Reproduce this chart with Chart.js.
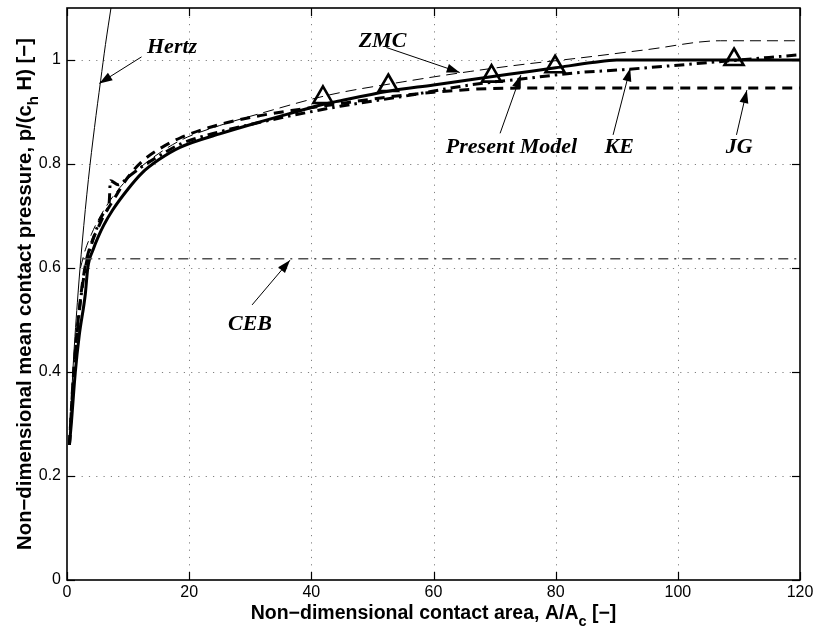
<!DOCTYPE html>
<html><head><meta charset="utf-8">
<script src="https://cdn.jsdelivr.net/npm/chart.js@4.4.1/dist/chart.umd.min.js"></script>
<style>html,body{margin:0;padding:0;background:#fff;overflow:hidden}canvas{display:block}</style>
</head><body>
<canvas id="c" width="819" height="639"></canvas>
<script>
// ---- tick labels / axes ----
const xTicks = [0, 20, 40, 60, 80, 100, 120];
const yTicks = [0, 0.2, 0.4, 0.6, 0.8, 1];
const xMin = 0, xMax = 120, yMin = 0, yMax = 1.1;

// ---- series ----
const hertzX = [0.4, 1, 1.8, 2.5, 3.5, 4.5, 5.5, 6.3, 7.2];
const hertzY = [0.26, 0.41, 0.55, 0.65, 0.77, 0.87, 0.96, 1.03, 1.1];

const cebX = [2.5, 120];
const cebY = [0.618, 0.618];

const zmcX = [2.2, 3, 4, 5, 6.5, 8, 10, 13, 18.5, 25, 31.6, 43, 55, 66, 75, 84, 95, 107, 120];
const zmcY = [0.60, 0.635, 0.665, 0.69, 0.72, 0.745, 0.772, 0.803, 0.845, 0.874, 0.897, 0.933, 0.958, 0.978, 0.992, 1.004, 1.02, 1.037, 1.037];

const keX = [0.4, 1, 2, 3, 4, 5, 6, 6.9, 7.1, 8.4, 10, 12.3, 15, 18.5, 25, 31.6, 38, 44.7, 55, 66, 74, 84, 90.5, 100, 110, 120];
const keY = [0.26, 0.38, 0.515, 0.6, 0.645, 0.68, 0.705, 0.725, 0.768, 0.76, 0.775, 0.795, 0.815, 0.838, 0.862, 0.88, 0.896, 0.911, 0.93, 0.952, 0.963, 0.976, 0.981, 0.99, 1.0, 1.01];

const jgX = [0.4, 1, 2, 3, 4, 5, 6, 7.4, 10, 12.3, 15, 18.5, 25, 31.6, 38, 44, 52, 60, 67, 75, 120];
const jgY = [0.26, 0.385, 0.52, 0.605, 0.648, 0.675, 0.70, 0.727, 0.775, 0.805, 0.828, 0.85, 0.876, 0.893, 0.905, 0.915, 0.928, 0.938, 0.944, 0.946, 0.946];

const presentX = [0.4, 0.7, 1.36, 2, 3, 3.4, 4.3, 5, 6, 7.5, 10, 12.3, 15, 18.5, 25, 31.6, 38, 42, 44, 52.6, 60, 66, 72, 80, 86, 90, 100, 120];
const presentY = [0.26, 0.30, 0.40, 0.47, 0.55, 0.60, 0.636, 0.657, 0.682, 0.712, 0.752, 0.783, 0.808, 0.832, 0.858, 0.881, 0.902, 0.915, 0.92, 0.94, 0.952, 0.962, 0.972, 0.985, 0.995, 1.0, 1.0, 1.0];

const triX = [41.9, 52.6, 69.5, 79.9, 109.2];
const triY = [0.928, 0.951, 0.969, 0.987, 1.001];

// ---- annotations: label, text baseline position, arrow tail -> tip (data units) ----
const annLabels = ['Hertz', 'ZMC', 'Present Model', 'KE', 'JG', 'CEB'];
const annTextX  = [17.2, 51.65, 72.77, 90.4, 110.05, 29.96];
const annTextY  = [1.0135, 1.025, 0.821, 0.8206, 0.821, 0.4808];
const annFromX  = [12.2, 52.3, 70.9, 89.4, 109.6, 30.3];
const annFromY  = [1.006, 1.024, 0.859, 0.856, 0.856, 0.529];
const annToX    = [5.29, 64.3, 74.3, 92.2, 111.3, 36.5];
const annToY    = [0.955, 0.976, 0.971, 0.984, 0.942, 0.615];

const pts = (xs, ys) => xs.map((x, i) => ({x: x, y: ys[i]}));

function lineDs(xs, ys, w, dash, color) {
  return {
    data: pts(xs, ys), borderColor: color || '#000', borderWidth: w, borderDash: dash || [],
    pointRadius: 0, fill: false, cubicInterpolationMode: 'monotone', borderCapStyle: 'butt',
    borderJoinStyle: 'round', clip: 0
  };
}

const datasets = [
  lineDs(cebX, cebY, 1.5, [10, 6, 2, 6], '#505050'),
  lineDs(hertzX, hertzY, 1, []),
  lineDs(zmcX, zmcY, 1, [11, 6]),
  lineDs(keX, keY, 3, [10, 5, 2.5, 5]),
  lineDs(jgX, jgY, 3, [10, 7]),
  lineDs(presentX, presentY, 3, []),
  {
    data: pts(triX, triY), showLine: false, pointStyle: 'triangle', pointRadius: 11,
    pointBorderWidth: 2.6, pointBorderColor: '#000', pointBackgroundColor: 'rgba(0,0,0,0)', clip: false
  }
];

function arrow(ctx, x1, y1, x2, y2) {
  ctx.beginPath(); ctx.moveTo(x1, y1); ctx.lineTo(x2, y2); ctx.stroke();
  const a = Math.atan2(y2 - y1, x2 - x1), L = 13, W = 4.5;
  ctx.beginPath();
  ctx.moveTo(x2, y2);
  ctx.lineTo(x2 - L * Math.cos(a) + W * Math.sin(a), y2 - L * Math.sin(a) - W * Math.cos(a));
  ctx.lineTo(x2 - L * Math.cos(a) - W * Math.sin(a), y2 - L * Math.sin(a) + W * Math.cos(a));
  ctx.closePath(); ctx.fill();
}

function richText(ctx, parts, cx, by, size, subSize, subDrop) {
  const main = 'bold ' + size + 'px "Liberation Sans", Arial, sans-serif';
  const sub = 'bold ' + subSize + 'px "Liberation Sans", Arial, sans-serif';
  let total = 0;
  parts.forEach(p => { ctx.font = p.sub ? sub : main; total += ctx.measureText(p.t).width; });
  let x = cx - total / 2;
  ctx.textAlign = 'left'; ctx.textBaseline = 'alphabetic';
  parts.forEach(p => {
    ctx.font = p.sub ? sub : main;
    ctx.fillText(p.t, x, by + (p.sub ? subDrop : 0));
    x += ctx.measureText(p.t).width;
  });
}

const framePlugin = {
  id: 'frame',
  beforeDatasetsDraw(chart) {
    const {ctx, chartArea: a, scales: {x, y}} = chart;
    ctx.save();
    ctx.strokeStyle = '#808080'; ctx.lineWidth = 1; ctx.setLineDash([1.2, 6.1]);
    xTicks.forEach(v => {
      if (v <= xMin || v >= xMax) return;
      const px = Math.round(x.getPixelForValue(v)) + 0.5;
      ctx.beginPath(); ctx.moveTo(px, a.bottom); ctx.lineTo(px, a.top); ctx.stroke();
    });
    yTicks.forEach(v => {
      if (v <= yMin || v >= yMax) return;
      const py = Math.round(y.getPixelForValue(v)) + 0.5;
      ctx.beginPath(); ctx.moveTo(a.left, py); ctx.lineTo(a.right, py); ctx.stroke();
    });
    ctx.restore();
  },
  afterDatasetsDraw(chart) {
    const {ctx, chartArea: a, scales: {x, y}} = chart;
    ctx.save();
    ctx.strokeStyle = '#000'; ctx.lineWidth = 1.6; ctx.setLineDash([]);
    ctx.strokeRect(a.left, a.top, a.right - a.left, a.bottom - a.top);
    const T = 8;
    ctx.lineWidth = 1.2;
    xTicks.forEach(v => {
      const px = Math.round(x.getPixelForValue(v)) + 0.5;
      ctx.beginPath(); ctx.moveTo(px, a.bottom); ctx.lineTo(px, a.bottom - T); ctx.stroke();
      ctx.beginPath(); ctx.moveTo(px, a.top); ctx.lineTo(px, a.top + T); ctx.stroke();
    });
    yTicks.forEach(v => {
      const py = Math.round(y.getPixelForValue(v)) + 0.5;
      ctx.beginPath(); ctx.moveTo(a.left, py); ctx.lineTo(a.left + T, py); ctx.stroke();
      ctx.beginPath(); ctx.moveTo(a.right, py); ctx.lineTo(a.right - T, py); ctx.stroke();
    });
    ctx.fillStyle = '#000'; ctx.strokeStyle = '#000'; ctx.lineWidth = 1;
    ctx.font = 'bold italic 22px "Liberation Serif", "Times New Roman", serif';
    ctx.textAlign = 'center'; ctx.textBaseline = 'alphabetic';
    annLabels.forEach((t, i) => {
      ctx.fillText(t, x.getPixelForValue(annTextX[i]), y.getPixelForValue(annTextY[i]));
      arrow(ctx, x.getPixelForValue(annFromX[i]), y.getPixelForValue(annFromY[i]),
                 x.getPixelForValue(annToX[i]), y.getPixelForValue(annToY[i]));
    });
    const cx = (a.left + a.right) / 2;
    richText(ctx, [{t: 'Non\u2212dimensional contact area, A/A'}, {t: 'c', sub: true}, {t: ' [\u2212]'}],
      cx, 619, 19.5, 14.5, 7);
    ctx.save();
    ctx.translate(24, (a.top + a.bottom) / 2);
    ctx.rotate(-Math.PI / 2);
    richText(ctx, [{t: 'Non\u2212dimensional mean contact pressure, p/(c'}, {t: 'h', sub: true}, {t: ' H) [\u2212]'}],
      0, 7, 20.3, 15, 7);
    ctx.restore();
    ctx.restore();
  }
};

new Chart(document.getElementById('c'), {
  type: 'line',
  data: {datasets: datasets},
  options: {
    responsive: false, animation: false, devicePixelRatio: 1,
    layout: {autoPadding: false, padding: {left: 0, right: 19, top: 8, bottom: 0}},
    plugins: {legend: {display: false}, tooltip: {enabled: false}},
    scales: {
      x: {
        type: 'linear', min: xMin, max: xMax,
        afterBuildTicks: s => { s.ticks = xTicks.map(v => ({value: v})); },
        afterFit: s => { s.height = 59; s.paddingLeft = 0; s.paddingRight = 0; s.paddingTop = 0; s.paddingBottom = 0; },
        grid: {display: false, drawTicks: false}, border: {display: false},
        ticks: {color: '#000', font: {family: '"Liberation Sans", Arial, sans-serif', size: 16},
                padding: 3, maxRotation: 0, autoSkip: false, callback: v => String(v)}
      },
      y: {
        type: 'linear', min: yMin, max: yMax,
        afterBuildTicks: s => { s.ticks = yTicks.map(v => ({value: v})); },
        afterFit: s => { s.width = 67; s.paddingTop = 0; s.paddingBottom = 0; s.paddingLeft = 0; s.paddingRight = 0; },
        grid: {display: false, drawTicks: false}, border: {display: false},
        ticks: {color: '#000', font: {family: '"Liberation Sans", Arial, sans-serif', size: 16},
                padding: 6, autoSkip: false, callback: v => String(v)}
      }
    }
  },
  plugins: [framePlugin]
});
</script>
</body></html>
